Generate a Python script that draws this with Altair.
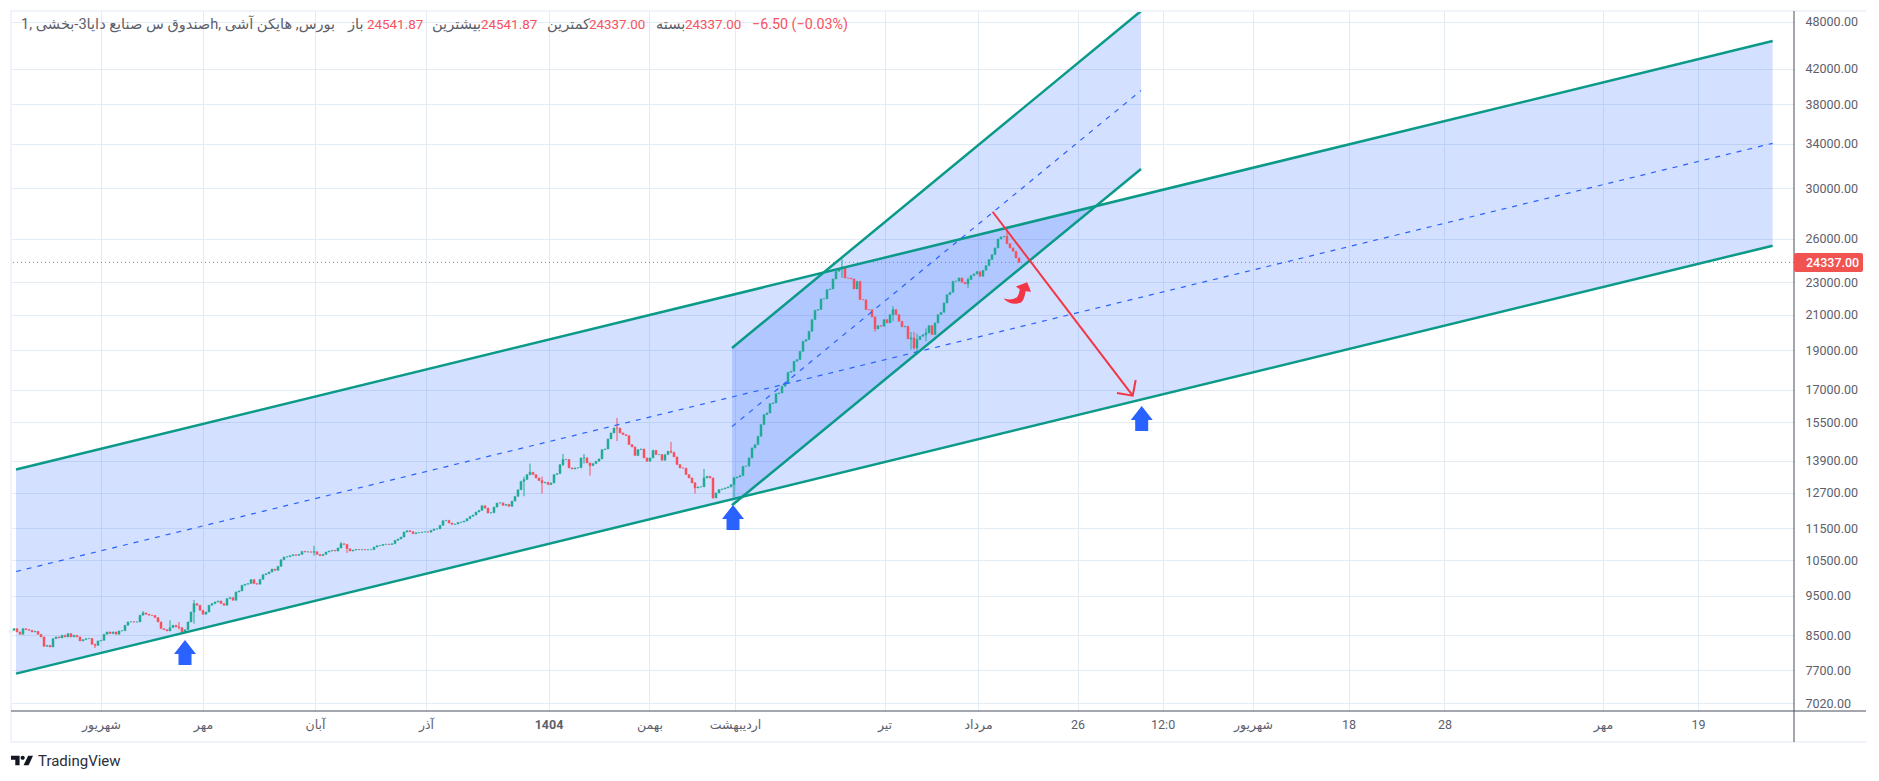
import altair as alt
import pandas as pd

FONT = "Roboto, 'Noto Sans', 'DejaVu Sans', sans-serif"
GREEN = "#22ab94"
RED = "#f7525f"
TEAL = "#0b9a88"
BLUE = "#2962ff"
GRID = "#e3ecf3"
TXT = "#5d606b"
DARK = "#4b4f5c"

closes_a = [8620,8661,8580,8524,8661,8636,8620,8580,8596,8524,8460,8238,8261,8223,8420,8460,8436,8500,8460,8540,
            8460,8500,8460,8365,8396,8420,8425,8285,8261,8365,8380,8524,8580,8540,8580,8524,8604,8610,8743,8826,
            8830,8822,8826,8995,9054,9020,8995,8990,8935,8826,8661,8636,8604,8686,8743,8702,8686,8580,8636,8826,
            9077,9294,9251,9121,9019,9077,9251,9294,9338,9364,9294,9251,9426,9453,9382,9605,9633,9788,9817,9835,
            9946,9835,9817]
closes_b = [9952,10084,10112,10160,10246,10208,10324,10520,10599,10609,10640,10669,10648,10679,10770,10750,10755,10745,10760,10679,
            10640,10679,10750,10780,10800,10780,10872,11005,10984,10850,10780,10810,10830,10820,10825,10815,10820,10822,10902,10944,
            10950,10984,10990,10980,11005,11109,11152,11214,11374,11417,11385,11320,11352,11358,11374,11380,11370,11428,11470,11475,
            11590,11743,11755,11667,11622,11633,11688,11700,11733,11809,11888,11932,12034,12091,12250,12168,11999,12010,12204,12343,
            12350,12263,12297,12228,12412,12578,12816]
closes_c = [13125,13187,13374,13463,13374,13249,13150,13063,13088,13002,13063,13374,13412,13757,13952,13960,13628,13590,13628,13635,
            14018,14025,13821,13717,13795,13887,13979,14351,14377,14790,15043,15255,15250,15043,14971,14929,14555,14459,14111,14351,
            14377,14018,13887,14018,14324,14150,14155,13925,14150,14284,14244,14058,13757,13628,13620,13374,13249,13063,12880,12916,
            12920,13249,13311,13249,12522,12700,12820,12844,12880,12916,13002,13249]
closes_d = [13286,13336,13692,13700,14018,14419,14555,14902,15401,15841,15916,16340,16370,16806,16839,17160,17320,17847,17899,18412,
            18499,18932,19479,19575,20038,20708,21261,21302,21952,21960,22537,22580,23226,23734,23890,24026,23290,23280,23226,22580,
            23075,21910,21900,21302,21295,20866,20170,20361,20323,20708,20516,21003,21302,21003,20611,20286,20323,19610,19665,19117,
            19575,19757,19850,19944,20361,19850,20516,21003,21140,21707,22221,22368,23075,23085]
closes_e = [23291,23007,22900,23182,23443,23556,23712,23400,23800,24115,24528,24876,25349,26000,26147,26195,25660,25349,25110,24643,24337]
first_open = 8560

wick_index = [28,44,53,56,61,101,110,112,171,173,177,184,191,193,202,220,228,231,234,241,277,288,294,300,301,302,305,319,332]
wick_high = [8300,9100,8866,8826,9390,10944,11060,10830,13300,13795,13300,14176,14176,13800,15692,14665,13100,13590,13100,13292,24550,20700,21506,20000,20000,19900,20200,23300,26900]
wick_low = [8200,9000,8700,8640,8780,10640,10950,10720,12582,13350,12676,13700,13800,13334,14700,14200,12676,13200,12500,12545,23290,20020,20600,19028,19028,18890,19483,22643,25660]

y_ticks = [48000,42000,38000,34000,30000,26000,23000,21000,19000,17000,15500,13900,12700,11500,10500,9500,8500,7700,7020]
x_ticks = [30,64,101.33,138.33,179.17,212.83,241.33,291.17,322.33,355.5,383.87,414,445.87,477.83,530.67,562.33]
x_labels = ["شهریور","مهر","آبان","آذر","1404","بهمن","اردیبهشت","تیر","مرداد","26","12:0","شهریور","18","28","مهر","19"]

ch1_x = [1.67, 587.2]
ch1_up = [13565, 45442]
ch1_mid = [10175, 34050]
ch1_lo = [7628, 25507]
ch2_x = [240.33, 376.67]
ch2_up = [19115, 49458]
ch2_mid = [15313, 39520]
ch2_lo = [12266, 31672]

last_price = 24337
red_x = [327.2, 373.9]
red_y = [28073, 16709]
head_x = [374.9, 373.9, 368.67]
head_y = [17463, 16709, 16840]
arrow_x = [58, 240.67, 376.9]
arrow_y = [8098, 11853, 15666]

header_px = [21, 348, 367, 432, 481, 547, 589, 656, 685, 752]
header_text = ["1, صندوق س صنایع دایا3-بخشیh, بورس, هایکن آشی", "باز", "24541.87", "بیشترین", "24541.87", "کمترین",
               "24337.00", "بسته", "24337.00", "−6.50 (−0.03%)"]
header_color = [TXT, TXT, RED, TXT, RED, TXT, RED, TXT, RED, RED]
header_size = [14.6, 14.6, 13.4, 14.6, 13.4, 14.6, 13.4, 14.6, 13.4, 14.3]

X_DOMAIN = [0, 594.33]
Y_DOMAIN = [6865, 49458]
xs = alt.Scale(domain=X_DOMAIN, nice=False, zero=False, padding=0)
ys = alt.Scale(type="log", domain=Y_DOMAIN, nice=False)


def X(f="x", **k):
    return alt.X(f"{f}:Q", scale=xs, title=None, **k)


def Y(f="y", **k):
    return alt.Y(f"{f}:Q", scale=ys, title=None, **k)


closes = closes_a + closes_b + closes_c + closes_d + closes_e
opens = [first_open] + closes[:-1]
colors = [GREEN if c >= o else RED for o, c in zip(opens, closes)]
candles = pd.DataFrame({"x": range(len(closes)), "o": opens, "c": closes, "col": colors})
wicks = pd.DataFrame({"x": wick_index, "h": wick_high, "l": wick_low, "col": [colors[i] for i in wick_index]})

lbl_expr = "[" + ",".join(f"'{s}'" for s in x_labels) + "][indexof([" + ",".join(str(v) for v in x_ticks) + "],datum.value)]"

grid_layer = alt.Chart(pd.DataFrame({"x": [0], "y": [last_price]})).mark_point(opacity=0).encode(
    x=X(axis=alt.Axis(orient="bottom", values=x_ticks, labelExpr=lbl_expr, domain=False, ticks=False, grid=True,
                      gridColor=GRID, gridWidth=1, labelColor=TXT, labelFont=FONT, labelFontSize=12.5, labelPadding=7,
                      labelOverlap=False, labelFlush=False,
                      labelFontWeight=alt.expr("datum.value == 179.17 ? 'bold' : 'normal'"))),
    y=Y(axis=alt.Axis(orient="right", values=y_ticks, format=".2f", domain=False, ticks=False, grid=True,
                      gridColor=GRID, gridWidth=1, labelColor=TXT, labelFont=FONT, labelFontSize=12.5, labelPadding=11,
                      labelOverlap=False, labelFlush=False)),
)


def channel(xv, up, mid, lo):
    df = pd.DataFrame({"x": xv, "up": up, "mid": mid, "lo": lo})
    base = alt.Chart(df)
    return [
        base.mark_area(color=BLUE, opacity=0.2).encode(x=X(), y=Y("up"), y2="lo:Q"),
    ], [
        base.mark_line(color=BLUE, strokeWidth=1.2, strokeDash=[5, 6]).encode(x=X(), y=Y("mid")),
        base.mark_line(color=TEAL, strokeWidth=2.5).encode(x=X(), y=Y("up")),
        base.mark_line(color=TEAL, strokeWidth=2.5).encode(x=X(), y=Y("lo")),
    ]


f1, l1 = channel(ch1_x, ch1_up, ch1_mid, ch1_lo)
f2, l2 = channel(ch2_x, ch2_up, ch2_mid, ch2_lo)

last_rule = alt.Chart(pd.DataFrame({"y": [last_price]})).mark_rule(color=RED, strokeWidth=1, strokeDash=[1, 3]).encode(y=Y())

wick_layer = alt.Chart(wicks).mark_rule(strokeWidth=1).encode(x=X(), y=Y("l"), y2="h:Q", color=alt.Color("col:N", scale=None))
body_layer = alt.Chart(candles).mark_bar(size=2, strokeWidth=0.5).encode(
    x=X(), y=Y("o"), y2="c:Q", color=alt.Color("col:N", scale=None), stroke=alt.Stroke("col:N", scale=None))

red_line = alt.Chart(pd.DataFrame({"x": red_x, "y": red_y})).mark_line(color="#f23645", strokeWidth=2).encode(x=X(), y=Y())
red_head = alt.Chart(pd.DataFrame({"x": head_x, "y": head_y, "o": [0, 1, 2]})).mark_line(color="#f23645", strokeWidth=2).encode(
    x=X(), y=Y(), order="o:Q")

BLUE_ARROW = "M0,-1L0.88,0.12L0.52,0.12L0.52,1L-0.52,1L-0.52,0.12L-0.88,0.12Z"
blue_arrows = alt.Chart(pd.DataFrame({"x": arrow_x, "y": arrow_y})).mark_point(
    shape=BLUE_ARROW, size=625, filled=True, color=BLUE, opacity=1, strokeWidth=0).encode(x=X(), y=Y())

CURVE = "M-.96,.4 Q-.4,.95 .3,.68 Q.55,.4 .6,-.12 L.99,-.08 L.72,-.75 L-.08,-.45 L.2,-.27 Q.15,.1 0,.3 Q-.4,.55 -.96,.4Z"
curve_arrow = alt.Chart(pd.DataFrame({"x": [335.33], "y": [22325]})).mark_point(
    shape=CURVE, size=800, filled=True, color="#f23645", opacity=1, strokeWidth=0).encode(x=X(), y=Y())

frame = alt.Chart(pd.DataFrame({"a": [0]})).mark_rect(fillOpacity=0, stroke="#f0f3fa", strokeWidth=2).encode(
    x=alt.value(0), x2=alt.value(1857), y=alt.value(0), y2=alt.value(731))
axis_h = alt.Chart(pd.DataFrame({"a": [0]})).mark_rule(color=DARK, strokeWidth=1).encode(
    x=alt.value(0), x2=alt.value(1857), y=alt.value(700))
axis_v = alt.Chart(pd.DataFrame({"a": [0]})).mark_rule(color=DARK, strokeWidth=1).encode(
    x=alt.value(1783), y=alt.value(0), y2=alt.value(731))

price_box = alt.Chart(pd.DataFrame({"a": [0]})).mark_rect(color="#f05350", cornerRadius=2).encode(
    x=alt.value(1783), x2=alt.value(1852), y=alt.value(242), y2=alt.value(261))
price_text = alt.Chart(pd.DataFrame({"t": [f"{last_price:.2f}"]})).mark_text(
    color="white", font=FONT, fontSize=12.5, fontWeight=500, align="left", baseline="middle").encode(
    x=alt.value(1795), y=alt.value(251.5), text="t:N")

header = alt.Chart(pd.DataFrame({"px": [p - 11 for p in header_px], "t": header_text, "col": header_color, "fs": header_size})).mark_text(
    font=FONT, align="left", baseline="middle").encode(
    x=alt.X("px:Q", scale=None), y=alt.value(14), text="t:N", color=alt.Color("col:N", scale=None),
    size=alt.Size("fs:Q", scale=None))

TV_LOGO = ("M-1,-0.44L-0.22,-0.44L-0.22,0.44L-0.61,0.44L-0.61,-0.06L-1,-0.06Z"
           "M-0.13,-0.25a0.19,0.19 0 1,0 0.38,0a0.19,0.19 0 1,0 -0.38,0Z"
           "M0.56,-0.44L1,-0.44L0.6,0.44L0.14,0.44Z")
logo = alt.Chart(pd.DataFrame({"a": [0]})).mark_point(
    shape=TV_LOGO, size=484, filled=True, color="#131722", opacity=1, strokeWidth=0).encode(
    x=alt.value(11), y=alt.value(749.5))
logo_text = alt.Chart(pd.DataFrame({"t": ["TradingView"]})).mark_text(
    color="#2a2e39", font=FONT, fontSize=15, align="left", baseline="middle").encode(
    x=alt.value(27), y=alt.value(749.5), text="t:N")

chart = alt.layer(
    grid_layer, *f1, *f2, last_rule, wick_layer, body_layer, *l1, *l2, red_line, red_head, blue_arrows, curve_arrow,
    frame, axis_h, axis_v, price_box, price_text, header, logo, logo_text,
).properties(
    width=1783, height=700,
    autosize=alt.AutoSizeParams(type="none"),
    padding={"left": 3, "top": 3, "right": 72, "bottom": 60},
    background="white",
).configure_view(stroke=None)

chart.save("out.html", embed_options={"renderer": "svg", "actions": False})
